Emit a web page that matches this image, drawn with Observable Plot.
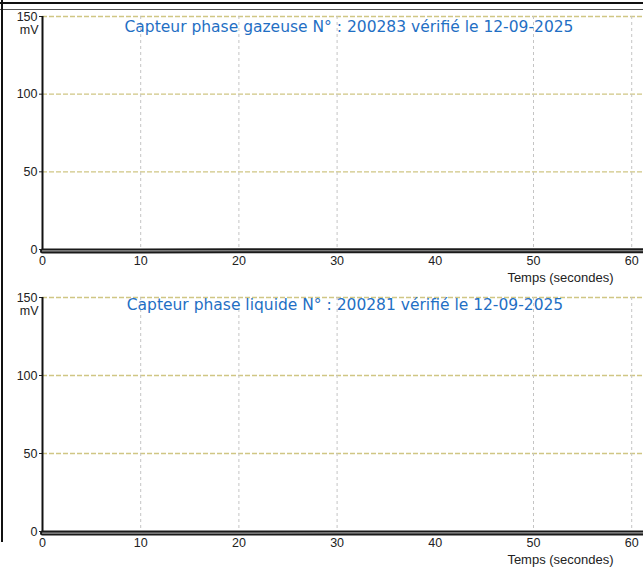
<!DOCTYPE html>
<html>
<head>
<meta charset="utf-8">
<script src="https://cdn.jsdelivr.net/npm/d3@7"></script>
<script src="https://cdn.jsdelivr.net/npm/@observablehq/plot@0.6"></script>
<style>
  html, body { margin: 0; padding: 0; background: #fff; }
  #wrap { position: relative; width: 643px; height: 567px; overflow: hidden; }
  #wrap svg { display: block; }
  .edgeTop { position: absolute; left: 0; top: 2px; width: 643px; height: 2px; background: #111; }
  .edgeTop2 { position: absolute; left: 0; top: 9px; width: 643px; height: 1px; background: #555; }
  .edgeLeft { position: absolute; left: 1px; top: 0; width: 2px; height: 542px; background: #111; }
</style>
</head>
<body>
<div id="wrap"></div>
<script>
// ---- data ----
const titres = [
  "Capteur phase gazeuse N° : 200283 vérifié le 12-09-2025",
  "Capteur phase liquide N° : 200281 vérifié le 12-09-2025"
];
const temps = [0, 10, 20, 30, 40, 50, 60, 61.2];
const mesureGaz = [-0.9, -0.9, -0.8, -0.8, -0.8, -0.8, -0.8, -0.8];
const mesureLiq = [-1.0, -1.0, -1.0, -0.9, -0.9, -0.9, -0.9, -0.9];
const yTicks = [0, 50, 100, 150];
const xTicks = [0, 10, 20, 30, 40, 50, 60];
const yGrid = [50, 100, 150];
const xGrid = [10, 20, 30, 50, 60];
const uniteY = "mV";
const labelX = "Temps (secondes)";

function panel(titre, valeurs, opts) {
  const data = temps.map((t, i) => ({t, v: valeurs[i]}));
  return Plot.plot({
    width: 643,
    height: opts.height,
    marginLeft: 42,
    marginRight: 0,
    marginTop: opts.marginTop,
    marginBottom: opts.marginBottom,
    style: {fontFamily: "'Liberation Sans', Arial, sans-serif", fontSize: "12.5px", color: "#222", background: "transparent", overflow: "visible"},
    x: {domain: [0, 61.2], label: null},
    y: {domain: [0, 150], label: null},
    marks: [
      Plot.ruleY(yGrid, {stroke: "#d0c684", strokeWidth: 1.3, strokeDasharray: "5,2"}),
      Plot.ruleX(xGrid, {stroke: "#c4c4c4", strokeWidth: 1, strokeDasharray: "3,3"}),
      Plot.axisY({ticks: yTicks, tickSize: 3, tickPadding: 2, fontSize: 12.5, stroke: "#222"}),
      Plot.axisX({ticks: xTicks, tickSize: 0, tickPadding: 7, fontSize: 12.5}),
      Plot.ruleX([0], {stroke: "#111", strokeWidth: 2}),
      Plot.line(data, {x: "t", y: "v", stroke: "#1a1a1a", strokeWidth: 5}),
      Plot.line(data, {x: "t", y: "v", stroke: "#9a9a9a", strokeWidth: 1.2}),
      Plot.text([uniteY], {frameAnchor: "top-left", dx: -4, dy: 9, textAnchor: "end", fontSize: 12.5, fill: "#222"}),
      Plot.text([labelX], {frameAnchor: "bottom-right", dx: -83, dy: opts.labelDy, textAnchor: "middle", fontSize: 13, fill: "#222"}),
      Plot.text([titre], {frameAnchor: "top", dx: opts.titleDx, dy: opts.titleDy, fontSize: 15.5, fill: "#1f6fc4",
        fontFamily: "'DejaVu Sans', Verdana, sans-serif"})
    ]
  });
}

const wrap = document.getElementById("wrap");
wrap.appendChild(panel(titres[0], mesureGaz, {height: 283, marginTop: 16, marginBottom: 34, labelDy: 32, titleDx: 6, titleDy: 4}));
wrap.appendChild(panel(titres[1], mesureLiq, {height: 284, marginTop: 14, marginBottom: 36, labelDy: 32, titleDx: 2, titleDy: 1}));
["edgeTop", "edgeTop2", "edgeLeft"].forEach(c => { const d = document.createElement("div"); d.className = c; wrap.appendChild(d); });
</script>
</body>
</html>
